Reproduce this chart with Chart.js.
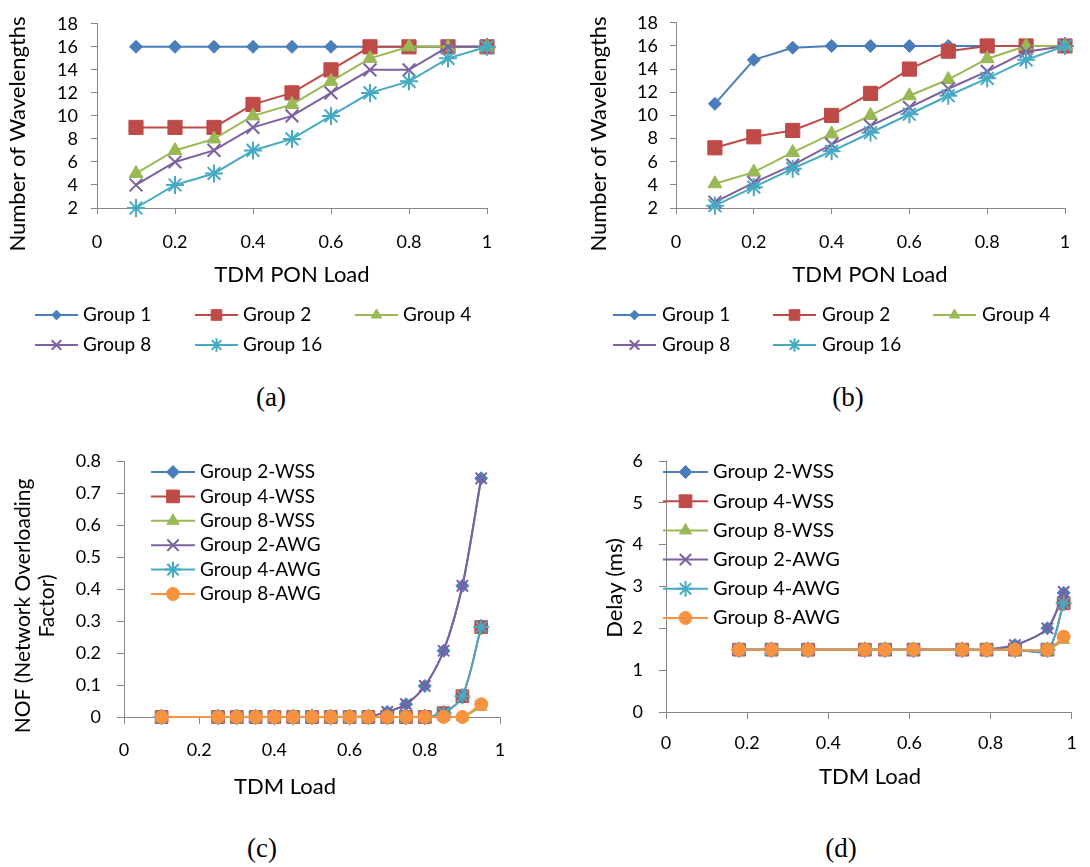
<!DOCTYPE html>
<html>
<head>
<meta charset="utf-8">
<title>Wavelengths, NOF and delay vs TDM load</title>
<script src="https://cdn.jsdelivr.net/npm/chart.js@4.4.1/dist/chart.umd.min.js"></script>
<style>
  body { margin: 0; background: #fff; }
  #page { position: relative; width: 1090px; height: 867px; overflow: hidden; }
  .pane { position: absolute; }
  .cap { position: absolute; font-family: 'Liberation Serif', 'Times New Roman', serif; font-size: 27px; line-height: 30px; transform: translateX(-50%); color: #000; }
</style>
</head>
<body>
<div id="page">
  <div class="pane" style="left:0;top:0;width:545px;height:365px"><canvas id="chartA"></canvas></div>
  <div class="pane" style="left:560px;top:0;width:530px;height:365px"><canvas id="chartB"></canvas></div>
  <div class="pane" style="left:0;top:430px;width:545px;height:380px"><canvas id="chartC"></canvas></div>
  <div class="pane" style="left:560px;top:430px;width:530px;height:380px"><canvas id="chartD"></canvas></div>
  <div class="cap" style="left:271px;top:382px">(a)</div>
  <div class="cap" style="left:848px;top:382px">(b)</div>
  <div class="cap" style="left:262px;top:833px">(c)</div>
  <div class="cap" style="left:841px;top:833px">(d)</div>
</div>
<script>
// ---- data: (a) and (b) number of wavelengths vs TDM PON load ----
const ponLoad = [0.1, 0.2, 0.3, 0.4, 0.5, 0.6, 0.7, 0.8, 0.9, 1.0];
const groupsAB = ['Group 1', 'Group 2', 'Group 4', 'Group 8', 'Group 16'];

const aGroup1 = [16, 16, 16, 16, 16, 16, 16, 16, 16, 16];
const aGroup2 = [9, 9, 9, 11, 12, 14, 16, 16, 16, 16];
const aGroup4 = [5, 7, 8, 10, 11, 13, 15, 16, 16, 16];
const aGroup8 = [4, 6, 7, 9, 10, 12, 14, 14, 16, 16];
const aGroup16 = [2, 4, 5, 7, 8, 10, 12, 13, 15, 16];

const bGroup1 = [11, 14.8, 15.85, 16, 16, 16, 16, 16, 16, 16];
const bGroup2 = [7.2, 8.15, 8.7, 10, 11.9, 14, 15.55, 16, 16, 16];
const bGroup4 = [4.1, 5.1, 6.8, 8.4, 10, 11.7, 13.1, 14.9, 16, 16];
const bGroup8 = [2.5, 4.2, 5.7, 7.5, 9.1, 10.7, 12.3, 13.8, 15.5, 16];
const bGroup16 = [2.2, 3.8, 5.4, 6.9, 8.5, 10.1, 11.7, 13.2, 14.8, 16];

// ---- data: (c) NOF and (d) delay vs TDM load ----
const groupsCD = ['Group 2-WSS', 'Group 4-WSS', 'Group 8-WSS', 'Group 2-AWG', 'Group 4-AWG', 'Group 8-AWG'];

const nofLoad = [0.1, 0.25, 0.3, 0.35, 0.4, 0.45, 0.5, 0.55, 0.6, 0.65, 0.7, 0.75, 0.8, 0.85, 0.9, 0.95];
const nofG2WSS = [0, 0, 0, 0, 0, 0, 0, 0, 0, 0.002, 0.016, 0.04, 0.097, 0.207, 0.41, 0.746];
const nofG4WSS = [0, 0, 0, 0, 0, 0, 0, 0, 0, 0, 0, 0, 0, 0.012, 0.065, 0.281];
const nofG8WSS = [0, 0, 0, 0, 0, 0, 0, 0, 0, 0, 0, 0, 0, 0, 0, 0.032];
const nofG2AWG = [0, 0, 0, 0, 0, 0, 0, 0, 0, 0.002, 0.016, 0.04, 0.097, 0.207, 0.41, 0.746];
const nofG4AWG = [0, 0, 0, 0, 0, 0, 0, 0, 0, 0, 0, 0, 0, 0.012, 0.065, 0.281];
const nofG8AWG = [0, 0, 0, 0, 0, 0, 0, 0, 0, 0, 0, 0, 0, 0, 0, 0.04];

const delayLoad = [0.18, 0.26, 0.35, 0.49, 0.54, 0.61, 0.73, 0.79, 0.86, 0.94, 0.98];
const delayG2WSS = [1.49, 1.49, 1.49, 1.49, 1.49, 1.49, 1.49, 1.49, 1.6, 2.0, 2.85];
const delayG4WSS = [1.49, 1.49, 1.49, 1.49, 1.49, 1.49, 1.49, 1.49, 1.49, 1.49, 2.6];
const delayG8WSS = [1.49, 1.49, 1.49, 1.49, 1.49, 1.49, 1.49, 1.49, 1.49, 1.49, 1.72];
const delayG2AWG = [1.49, 1.49, 1.49, 1.49, 1.49, 1.49, 1.49, 1.49, 1.6, 2.0, 2.87];
const delayG4AWG = [1.49, 1.49, 1.49, 1.49, 1.49, 1.49, 1.49, 1.49, 1.49, 1.49, 2.6];
const delayG8AWG = [1.49, 1.49, 1.49, 1.49, 1.49, 1.49, 1.49, 1.49, 1.49, 1.49, 1.8];

// ---- shared look (Excel 2010 defaults) ----
const FONT = 'Lato';
const AXIS = '#868686';
const blue = '#4A7EBB', red = '#BE4B48', green = '#98B954', purple = '#7D60A0', aqua = '#46AAC5', orange = '#F69240';

const markersAB = [
  { color: blue, style: 'rectRot', r: 6.5 },
  { color: red, style: 'rect', r: 10 },
  { color: green, style: 'triangle', r: 8 },
  { color: purple, style: 'crossRot', r: 9 },
  { color: aqua, style: 'star', r: 9 }
];
const markersCD = [
  { color: blue, style: 'rectRot', r: 6.5 },
  { color: red, style: 'rect', r: 9 },
  { color: green, style: 'triangle', r: 7 },
  { color: purple, style: 'crossRot', r: 8 },
  { color: aqua, style: 'star', r: 8 },
  { color: orange, style: 'circle', r: 6.5 }
];

// Excel prints 0, 0.2 ... 1 (no trailing zeros)
const tickText = v => String(Math.round(v * 10) / 10);

function makeSets(labels, xs, seriesList, markers, tension) {
  return seriesList.map((ys, i) => {
    const m = markers[i];
    const stroked = m.style === 'crossRot' || m.style === 'star';
    return {
      label: labels[i],
      data: xs.map((x, k) => ({ x, y: ys[k] })),
      borderColor: m.color,
      backgroundColor: m.color,
      borderWidth: 2,
      pointStyle: m.style,
      pointRadius: m.r,
      pointBackgroundColor: m.color,
      pointBorderColor: m.color,
      pointBorderWidth: stroked ? 2 : 1,
      tension: tension,
      clip: false,
      order: -i // Excel stacks later series on top
    };
  });
}

// draws the Excel-style legend and the axis titles at fixed spots
const paneText = {
  id: 'paneText',
  afterDraw(chart, args, opts) {
    const ctx = chart.ctx;
    ctx.save();
    const lg = opts.legend;
    ctx.font = lg.size + 'px ' + FONT;
    ctx.textBaseline = 'middle';
    ctx.textAlign = 'left';
    chart.data.datasets.forEach((ds, i) => {
      const x = lg.x + (i % lg.cols) * lg.colW;
      const y = lg.y + Math.floor(i / lg.cols) * lg.rowH;
      ctx.strokeStyle = ds.borderColor;
      ctx.lineWidth = ds.borderWidth;
      ctx.beginPath();
      ctx.moveTo(x, y);
      ctx.lineTo(x + lg.lineW, y);
      ctx.stroke();
      ctx.fillStyle = ds.pointBackgroundColor;
      ctx.strokeStyle = ds.pointBorderColor;
      ctx.lineWidth = ds.pointBorderWidth;
      Chart.helpers.drawPoint(ctx, {
        pointStyle: ds.pointStyle,
        radius: ds.pointRadius * lg.markScale,
        borderWidth: ds.pointBorderWidth,
        rotation: 0
      }, x + lg.lineW / 2, y);
      ctx.fillStyle = '#000';
      ctx.fillText(ds.label, x + lg.lineW + lg.gap, y);
    });
    opts.titles.forEach(t => {
      ctx.save();
      ctx.translate(t.x, t.y);
      if (t.rot) ctx.rotate(-Math.PI / 2);
      ctx.font = t.size + 'px ' + FONT;
      ctx.fillStyle = '#000';
      ctx.textAlign = 'center';
      ctx.textBaseline = 'middle';
      const lines = [].concat(t.text);
      lines.forEach((line, k) => ctx.fillText(line, 0, (k - (lines.length - 1) / 2) * (t.lineH || 0)));
      ctx.restore();
    });
    ctx.restore();
  }
};

function makeChart(id, datasets, g) {
  const tickFont = { family: FONT, size: g.tickSize };
  return new Chart(document.getElementById(id), {
    type: 'line',
    data: { datasets },
    plugins: [paneText],
    options: {
      responsive: true,
      maintainAspectRatio: false,
      animation: false,
      layout: { padding: { top: g.top, right: g.right, bottom: 0, left: 0 } },
      plugins: {
        legend: { display: false },
        tooltip: { enabled: false },
        paneText: { legend: g.legend, titles: g.titles }
      },
      scales: {
        x: {
          type: 'linear',
          min: 0,
          max: 1,
          ticks: { stepSize: 0.2, autoSkip: false, callback: tickText, color: '#000', font: tickFont, padding: g.xPad, maxRotation: 0 },
          grid: { drawOnChartArea: false, tickLength: g.tickLen, color: AXIS },
          border: { color: AXIS, width: 1 },
          afterFit: s => { s.height = g.xH; }
        },
        y: {
          min: g.yMin,
          max: g.yMax,
          ticks: { stepSize: g.yStep, autoSkip: false, callback: tickText, color: '#000', font: tickFont, padding: g.yPad },
          grid: { drawOnChartArea: false, tickLength: g.tickLen, color: AXIS },
          border: { color: AXIS, width: 1 },
          afterFit: s => { s.width = g.yW; }
        }
      }
    }
  });
}

makeChart('chartA', makeSets(groupsAB, ponLoad, [aGroup1, aGroup2, aGroup4, aGroup8, aGroup16], markersAB, 0), {
  top: 10, right: 58, yW: 97, xH: 157, tickSize: 18, tickLen: 6, xPad: 17, yPad: 13,
  yMin: 2, yMax: 18, yStep: 2,
  legend: { x: 35, y: 315, cols: 3, colW: 160, rowH: 30, lineW: 43, gap: 5, size: 19, markScale: 0.75 },
  titles: [
    { text: 'Number of Wavelengths', x: 18, y: 134, rot: true, size: 22 },
    { text: 'TDM PON Load', x: 292, y: 275, size: 22 }
  ]
});

makeChart('chartB', makeSets(groupsAB, ponLoad, [bGroup1, bGroup2, bGroup4, bGroup8, bGroup16], markersAB, 0), {
  top: 10, right: 25, yW: 116, xH: 157, tickSize: 18, tickLen: 6, xPad: 17, yPad: 12,
  yMin: 2, yMax: 18, yStep: 2,
  legend: { x: 53, y: 315, cols: 3, colW: 160, rowH: 30, lineW: 43, gap: 6, size: 19, markScale: 0.75 },
  titles: [
    { text: 'Number of Wavelengths', x: 39, y: 134, rot: true, size: 22 },
    { text: 'TDM PON Load', x: 310, y: 275, size: 22 }
  ]
});

makeChart('chartC', makeSets(groupsCD, nofLoad, [nofG2WSS, nofG4WSS, nofG8WSS, nofG2AWG, nofG4AWG, nofG8AWG], markersCD, 0.3), {
  top: 31, right: 45, yW: 124, xH: 93, tickSize: 18, tickLen: 7, xPad: 15, yPad: 16,
  yMin: 0, yMax: 0.8, yStep: 0.1,
  legend: { x: 151, y: 42, cols: 1, colW: 0, rowH: 24.4, lineW: 44, gap: 5, size: 19, markScale: 1 },
  titles: [
    { text: ['NOF (Network Overloading', 'Factor)'], x: 35, y: 176, rot: true, size: 21, lineH: 24 },
    { text: 'TDM Load', x: 285, y: 357, size: 22 }
  ]
});

makeChart('chartD', makeSets(groupsCD, delayLoad, [delayG2WSS, delayG4WSS, delayG8WSS, delayG2AWG, delayG4AWG, delayG8AWG], markersCD, 0.3), {
  top: 31, right: 17, yW: 106, xH: 98, tickSize: 18, tickLen: 7, xPad: 13, yPad: 16,
  yMin: 0, yMax: 6, yStep: 1,
  legend: { x: 103, y: 42, cols: 1, colW: 0, rowH: 29.2, lineW: 45, gap: 5, size: 20, markScale: 1 },
  titles: [
    { text: 'Delay (ms)', x: 55, y: 158, rot: true, size: 22 },
    { text: 'TDM Load', x: 310, y: 347, size: 22 }
  ]
});
</script>
</body>
</html>
